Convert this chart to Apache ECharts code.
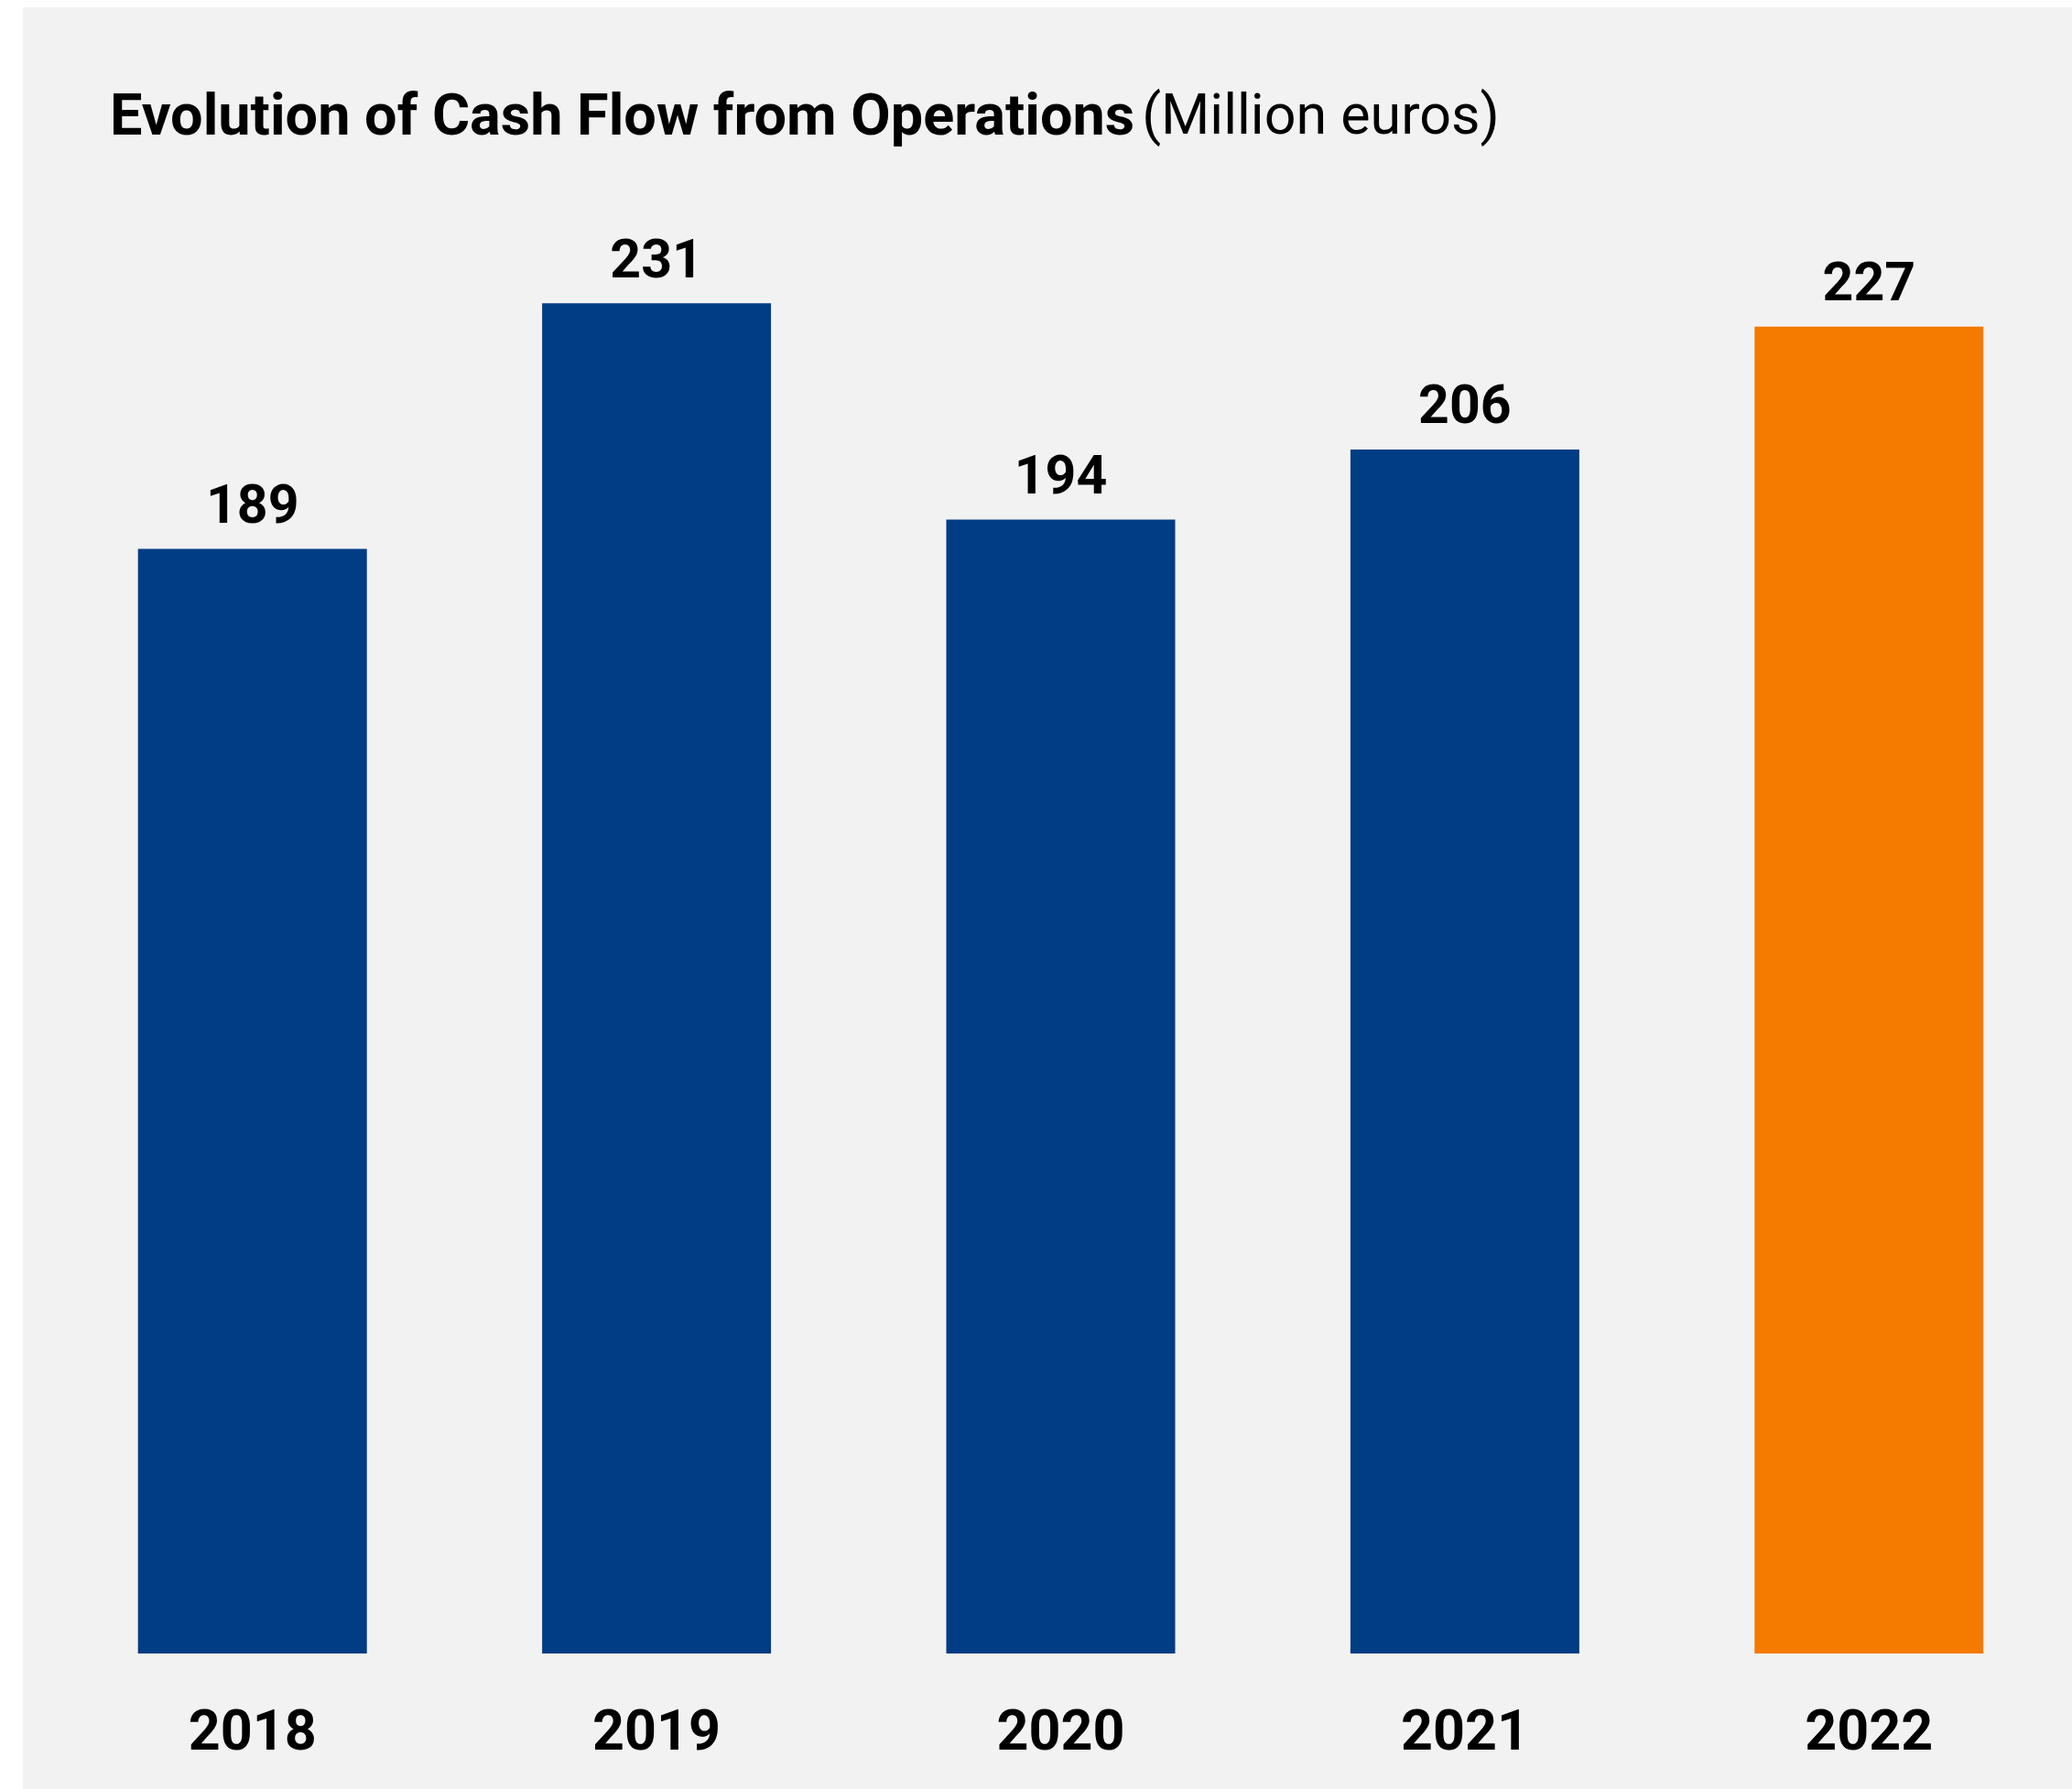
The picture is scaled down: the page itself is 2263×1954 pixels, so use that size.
<!DOCTYPE html>
<html>
<head>
<meta charset="utf-8">
<style>html,body{margin:0;padding:0;background:#fff;}#c{width:2263px;height:1954px;}</style>
<script src="https://cdn.jsdelivr.net/npm/echarts@6/dist/echarts.min.js"></script>
</head>
<body>
<div id="c"></div>
<script>
const years = ['2018', '2019', '2020', '2021', '2022'];
const cashFlow = [189, 231, 194, 206, 227];
const barColors = ['#003d84', '#003d84', '#003d84', '#003d84', '#f47a00'];
const titleBold = 'Evolution of Cash Flow from Operations';
const titleUnit = '(Million euros)';

const FONT = "'Roboto', sans-serif";
const chart = echarts.init(document.getElementById('c'), null, {renderer: 'canvas'});
chart.setOption({
  backgroundColor: '#ffffff',
  animation: false,
  graphic: [{
    type: 'rect', left: 25, top: 8, z: -10,
    shape: {width: 2238, height: 1946},
    style: {fill: '#f2f2f2'}
  }],
  title: {
    left: 115, top: 94,
    text: '{b|' + titleBold + '}{r|' + titleUnit + '}',
    textStyle: {
      rich: {
        b: {fontFamily: FONT, fontWeight: 'bold', fontSize: 63, lineHeight: 64, color: '#000', padding: [0, 8, 0, 0]},
        r: {fontFamily: FONT, fontWeight: 'normal', fontSize: 61, lineHeight: 64, color: '#000'}
      }
    }
  },
  grid: {left: 55, right: 1, top: 210, bottom: 148, containLabel: false},
  xAxis: {
    type: 'category', data: years,
    axisLine: {show: false}, axisTick: {show: false},
    axisLabel: {margin: 59, fontFamily: FONT, fontWeight: 'bold', fontSize: 61, color: '#000'}
  },
  yAxis: {type: 'value', min: 0, max: 250, show: false, splitLine: {show: false}},
  series: [{
    type: 'bar', barWidth: 250,
    data: cashFlow.map((v, i) => ({value: v, itemStyle: {color: barColors[i]}})),
    label: {show: true, position: 'top', distance: 14, fontFamily: FONT, fontWeight: 'bold', fontSize: 59, color: '#000'}
  }]
});
</script>
</body>
</html>
